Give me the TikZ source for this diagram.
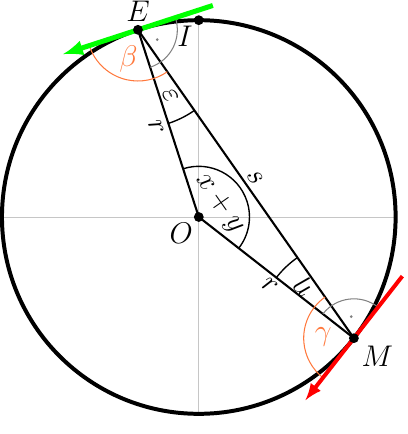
\documentclass[tikz,border=0pt]{standalone}
\usepackage{amssymb}
\usetikzlibrary{arrows,calc}
\definecolor{anglecol}{RGB}{255,120,60}

\begin{document}
\begin{tikzpicture}[>=latex,font=\LARGE]
\useasboundingbox (-4.04,-4.41) rectangle (4.24,4.41);
\coordinate (O) at (0,0);
\coordinate (E) at (108:4);
\coordinate (I) at (90:4);
\coordinate (M) at (-38:4);
\coordinate (L) at (-4,0);
\coordinate (R) at (4,0);
\coordinate (B) at (0,-4);
\draw[gray!45] (L) -- (R);
\draw[gray!45] (I) -- (B);
\draw[line width=2.3pt] (O) circle (4);
\draw[very thick] (E) -- node[sloped,below] {$r$} (O);
\draw[very thick] (O) -- node[sloped,below,inner sep=2pt] {$r$} (M);
\draw[very thick] (E) -- node[sloped,above,inner sep=2pt] {$s$} (M);
% angles at E
\draw[gray,semithick] ($(E)+(18:0.8)$) arc[start angle=18,end angle=-72,radius=0.8];
\fill[gray] ($(E)+(-27:0.44)$) circle (0.03);
\draw[anglecol,semithick] ($(E)+(198:1.04)$) arc[start angle=198,end angle=305,radius=1.04];
\node[anglecol] (beta) at ($(E)+(252:0.62)$) {$\beta$};
\draw[thick] ($(E)+(288:2)$) arc[start angle=288,end angle=305,radius=2];
\node[rotate=-63] (eps) at ($(E)+(296:1.5)$) {$\varepsilon$};
% angles at M
\draw[gray,semithick] ($(M)+(52:0.8)$) arc[start angle=52,end angle=142,radius=0.8];
\fill[gray] ($(M)+(97:0.44)$) circle (0.03);
\draw[anglecol,semithick] ($(M)+(125:1.02)$) arc[start angle=125,end angle=232,radius=1.02];
\node[anglecol] (gamma) at ($(M)+(178:0.62)$) {$\gamma$};
\draw[thick] ($(M)+(125:2)$) arc[start angle=125,end angle=142,radius=2];
\node[rotate=134] (eta) at ($(M)+(134:1.46)$) {$\eta$};
% angle at O
\draw[thick] ($(O)+(108:1.03)$) arc[start angle=108,end angle=-38,radius=1.03];
\node[rotate=-55] (xy) at ($(O)+(34:0.5)$) {$x+y$};
% tangents
\coordinate (Et) at ($(E)+(18:1.6)$);
\coordinate (Eb) at ($(E)+(198:1.6)$);
\coordinate (Mt) at ($(M)+(52:1.6)$);
\coordinate (Mb) at ($(M)+(232:1.6)$);
\draw[->,green,line width=2.9pt] (Et) -- (Eb);
\draw[->,red,line width=2.3pt] (Mt) -- (Mb);
% points
\fill (E) circle (0.1) node[above=1pt] {$E$};
\fill (I) circle (0.1) node[below left=0pt] {$I$};
\fill (O) circle (0.1) node[below left=0pt] {$O$};
\fill (M) circle (0.1) node[below right=1pt] {$M$};
\end{tikzpicture}
\end{document}
